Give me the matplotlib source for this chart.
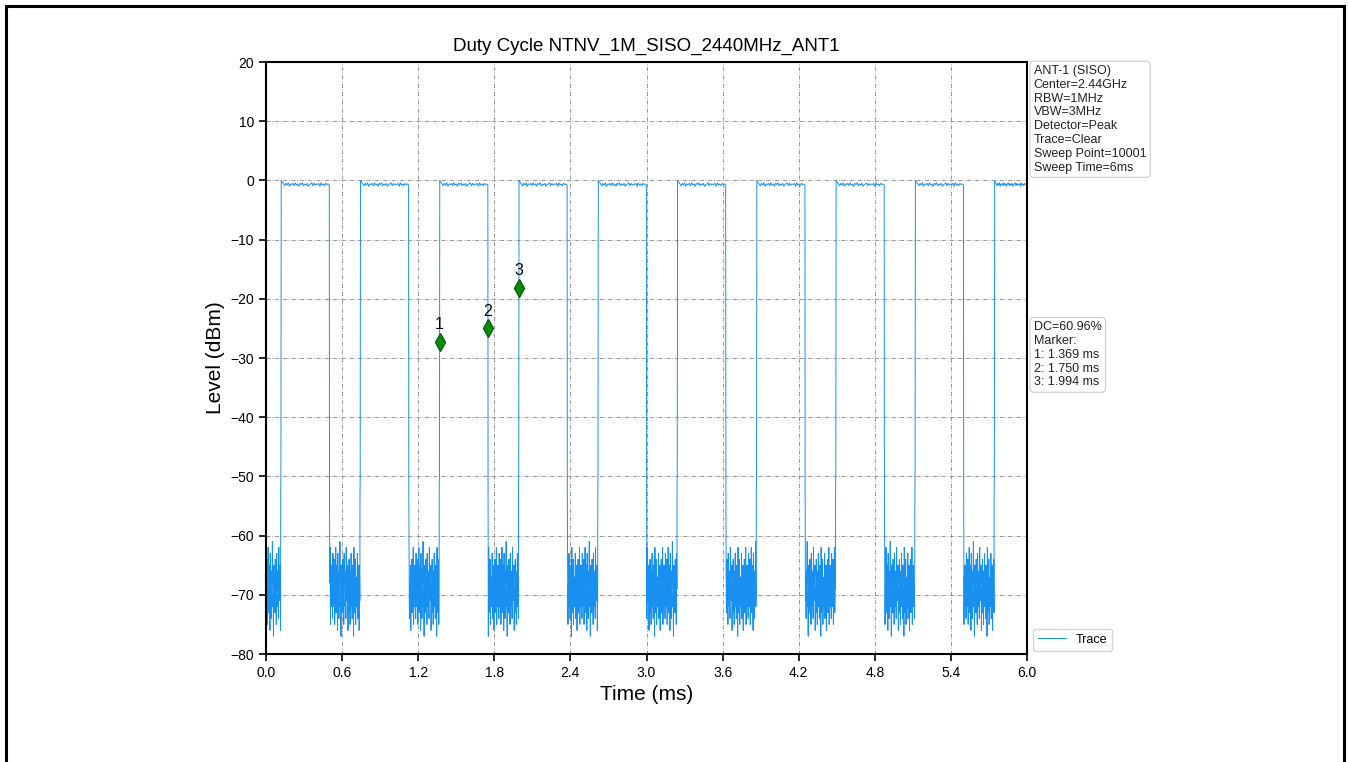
import numpy as np
import matplotlib
matplotlib.use("Agg")
import matplotlib.pyplot as plt
from matplotlib.patches import Rectangle

# ---------------- data ----------------
title = "Duty Cycle NTNV_1M_SISO_2440MHz_ANT1"
rise_t = [0.119, 0.744, 1.369, 1.994, 2.619, 3.244, 3.869, 4.494, 5.119, 5.744]
fall_t = [0.500, 1.125, 1.750, 2.375, 3.000, 3.625, 4.250, 4.875, 5.500]
rise_lo = [-52.5, -53.0, -52.0, -51.5, -52.5, -51.0, -52.0, -51.5, -52.5, -52.0]
fall_lo = [-54.5, -52.5, -52.0, -53.0, -51.5, -52.0, -52.5, -53.0, -52.0]
on_vals = [0.0, -0.3, -0.6, -0.9, -0.5, -0.8, -0.4, -1.0, -0.6, -0.7, -0.5, -0.9,
           -0.4, -0.8, -0.6, -1.0, -0.5, -0.7, -0.4, -0.9, -0.6, -0.8, -0.5, -1.0,
           -0.7, -0.6, -0.4, -0.9, -0.5, -0.8, -0.6, -0.7, -0.5, -1.0, -0.4, -0.8,
           -0.6, -0.9, -0.5, -0.7, -0.6, -0.8]
noise_vals = [-66, -72, -64, -75, -68, -70, -62, -73, -67, -69, -65, -76, -63, -71,
              -69, -74, -66, -68, -61, -72, -70, -77, -65, -71, -67, -73, -64, -70,
              -68, -75, -63, -69, -66, -72, -70, -74, -62, -71, -67, -68, -65, -76,
              -69, -73, -64, -70, -66, -75, -68, -71, -63, -72, -67, -74, -65, -69,
              -70, -77, -62, -73, -66, -70, -64, -75, -69, -71, -67, -72, -63, -74,
              -68, -70, -65, -76, -66, -71, -64, -73, -69, -68, -62, -75, -67, -72,
              -65, -70, -68, -74, -63, -71]
marker_t = [1.369, 1.750, 1.994]
marker_v = [-27.3, -25.0, -18.2]
marker_lbl = ["1", "2", "3"]
xticks = [0.0, 0.6, 1.2, 1.8, 2.4, 3.0, 3.6, 4.2, 4.8, 5.4, 6.0]
yticks = [-80, -70, -60, -50, -40, -30, -20, -10, 0, 10, 20]
info_text = ["ANT-1 (SISO)", "Center=2.44GHz", "RBW=1MHz", "VBW=3MHz",
             "Detector=Peak", "Trace=Clear", "Sweep Point=10001", "Sweep Time=6ms"]
dc_text = ["DC=60.96%", "Marker:", "1: 1.369 ms", "2: 1.750 ms", "3: 1.994 ms"]

# ---------------- build trace from the pieces ----------------
t_all, v_all = [], []
full_gap = rise_t[1] - fall_t[0]

def add_noise(t0, t1, shift):
    vals = np.roll(np.array(noise_vals, float), shift)
    n = max(4, int(round(len(vals) * (t1 - t0) / full_gap)))
    vals = vals[:n]
    t_all.extend(np.linspace(t0, t1, len(vals)))
    v_all.extend(vals)

add_noise(0.0, rise_t[0] - 0.004, 0)
for i, r in enumerate(rise_t):
    t_all.extend([r - 0.003, r - 0.0015])
    v_all.extend([rise_lo[i], rise_lo[i] + 2.0])
    end = fall_t[i] - 0.001 if i < len(fall_t) else 6.0
    t_all.extend(np.linspace(r + 0.001, end, len(on_vals)))
    v_all.extend(on_vals)
    if i < len(fall_t):
        f = fall_t[i]
        t_all.extend([f + 0.0008])
        v_all.extend([fall_lo[i]])
        add_noise(f + 0.003, rise_t[i + 1] - 0.004, 11 * (i + 1))

plt.rcParams['font.family'] = ['Liberation Sans', 'DejaVu Sans']

fig = plt.figure(figsize=(13.49, 7.62), dpi=100)
ax = fig.add_axes([266 / 1349, 1 - 654 / 762, (1027 - 266) / 1349, (654 - 62) / 762])

ax.plot(t_all, v_all, color='#1890f0', lw=0.7, label='Trace', zorder=2)
ax.plot(marker_t, marker_v, 'd', color='#0a8a0a', markeredgecolor='#006400',
        markersize=9, zorder=4)
for t, v, s in zip(marker_t, marker_v, marker_lbl):
    ax.annotate(s, (t, v), xytext=(0, 7), textcoords='offset points',
                ha='center', va='bottom', fontsize=11.5, color='black')

ax.set_xlim(0, 6)
ax.set_ylim(-80, 20)
ax.set_xticks(xticks)
ax.set_xticklabels([f"{x:.1f}" for x in xticks])
ax.set_yticks(yticks)
ax.tick_params(labelsize=10, width=1.2, length=5)
ax.grid(True, linestyle=(0, (5, 2, 1, 2)), color='#888888', lw=0.6)
for sp in ax.spines.values():
    sp.set_linewidth(1.5)
ax.set_title(title, fontsize=13.5, pad=8)
ax.set_xlabel("Time (ms)", fontsize=15)
ax.set_ylabel("Level (dBm)", fontsize=15)

box = dict(boxstyle='round,pad=0.3', fc='white', ec='#cccccc', lw=0.8)
ax.text(1.009, 0.995, "\n".join(info_text), transform=ax.transAxes, va='top',
        ha='left', fontsize=9, color='#222222', bbox=box, linespacing=1.2)
ax.text(1.009, 0.562, "\n".join(dc_text), transform=ax.transAxes, va='top',
        ha='left', fontsize=9, color='#222222', bbox=box, linespacing=1.2)
ax.legend(loc='lower left', bbox_to_anchor=(1.0, -0.005), fontsize=9,
          frameon=True, handlelength=2.2)

fig.add_artist(Rectangle((6 / 1349, -0.05), (1344 - 6) / 1349, 1 - 5.5 / 762 + 0.05,
                         transform=fig.transFigure, fill=False, ec='black', lw=2.2,
                         clip_on=False))

fig.savefig("out.png", dpi=100)
